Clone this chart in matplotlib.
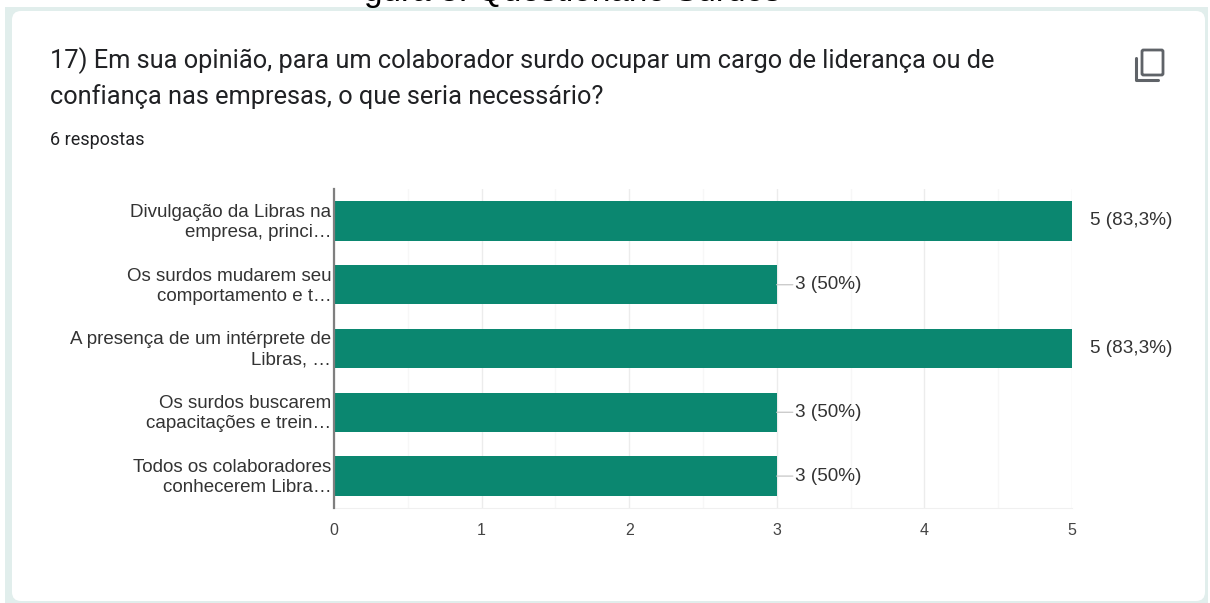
import matplotlib
matplotlib.use("Agg")
import matplotlib.pyplot as plt
from matplotlib.patches import FancyBboxPatch, Rectangle
from matplotlib.transforms import ScaledTranslation

categories = [
    "Divulgação da Libras na\nempresa, princi…",
    "Os surdos mudarem seu\ncomportamento e t…",
    "A presença de um intérprete de\nLibras, …",
    "Os surdos buscarem\ncapacitações e trein…",
    "Todos os colaboradores\nconhecerem Libra…",
]
values = [5, 3, 5, 3, 3]
value_labels = ["5 (83,3%)", "3 (50%)", "5 (83,3%)", "3 (50%)", "3 (50%)"]
x_ticks = [0, 1, 2, 3, 4, 5]
title_lines = [
    "17) Em sua opinião, para um colaborador surdo ocupar um cargo de liderança ou de",
    "confiança nas empresas, o que seria necessário?",
]
subtitle = "6 respostas"
clipped_heading = "gura 3: Questionário Surdos"

W, H = 1210, 603
CHART_FONT = ["Liberation Sans", "DejaVu Sans"]
plt.rcParams["font.family"] = ["Roboto", "DejaVu Sans"]
fig = plt.figure(figsize=(W / 100, H / 100), dpi=100, facecolor="white")
bg = fig.add_axes([0, 0, 1, 1])
bg.set_xlim(0, W)
bg.set_ylim(H, 0)
bg.axis("off")
bg.add_patch(Rectangle((5, 7), 1203, H - 7, fc="#e1eeec", ec="none"))
bg.add_patch(FancyBboxPatch((12, 11), 1193, 590, boxstyle="round,pad=0,rounding_size=9",
                            fc="white", ec="none", mutation_aspect=1))
bg.text(572, 0.5, clipped_heading, fontsize=24, color="black", ha="center", va="baseline",
        family=CHART_FONT)
for line, y in zip(title_lines, [61, 97]):
    bg.text(50, y, line, fontsize=18.3, color="#202124", va="center", ha="left")
bg.text(50, 140, subtitle, fontsize=13, color="#202124", va="center", ha="left")

# copy icon
bg.plot([1136, 1136, 1158], [58, 80, 80], color="#5f6368", lw=2.2,
        solid_joinstyle="round", solid_capstyle="round")
bg.add_patch(FancyBboxPatch((1142, 50), 21, 25, boxstyle="round,pad=0,rounding_size=1.5",
                            fc="none", ec="#5f6368", lw=2.0))

ax = fig.add_axes([334 / W, 1 - 508 / H, (1072 - 334) / W, (508 - 189) / H])
ax.set_facecolor("none")
ypos = list(range(len(categories)))
ax.barh(ypos, values, height=0.62, color="#0b8770", zorder=3)
ax.set_xlim(0, 5)
ax.set_ylim(len(categories) - 0.5, -0.5)
ax.set_xticks(x_ticks)
ax.set_xticks([0.5, 1.5, 2.5, 3.5, 4.5], minor=True)
ax.grid(True, axis="x", which="major", color="#ececec", lw=1, zorder=0)
ax.grid(True, axis="x", which="minor", color="#f7f7f7", lw=1, zorder=0)
ax.tick_params(axis="both", which="both", length=0)
ax.tick_params(axis="x", labelsize=11.5, labelcolor="#444444", pad=10.5)
for t in ax.get_xticklabels():
    t.set_family(CHART_FONT)
ax.set_yticks(ypos)
ax.set_yticklabels(categories, fontsize=13.5, color="#333333", linespacing=1.25, ha="right",
                   family=CHART_FONT)
ax.tick_params(axis="y", pad=2)
shift = ScaledTranslation(0, 1.5 / 72, fig.dpi_scale_trans)
for t in ax.get_yticklabels():
    t.set_transform(t.get_transform() + shift)
for name in ["top", "right"]:
    ax.spines[name].set_visible(False)
ax.spines["bottom"].set_color("#f0f0f0")
ax.spines["left"].set_color("#7f7f7f")
ax.spines["left"].set_linewidth(1.6)
ax.spines["left"].set_zorder(4)

for y, v, lab in zip(ypos, values, value_labels):
    if v < max(values):
        ax.annotate("", xy=(v, y), xytext=(11.5, 0), textcoords="offset points",
                    arrowprops=dict(arrowstyle="-", color="#cccccc", lw=1, shrinkA=0, shrinkB=0),
                    annotation_clip=False)
    ax.annotate(lab, xy=(v, y), xytext=(13, 0),
                textcoords="offset points", fontsize=13.6, color="#333333",
                va="center", ha="left", family=CHART_FONT)

fig.savefig("out.png", dpi=100, facecolor="white")
